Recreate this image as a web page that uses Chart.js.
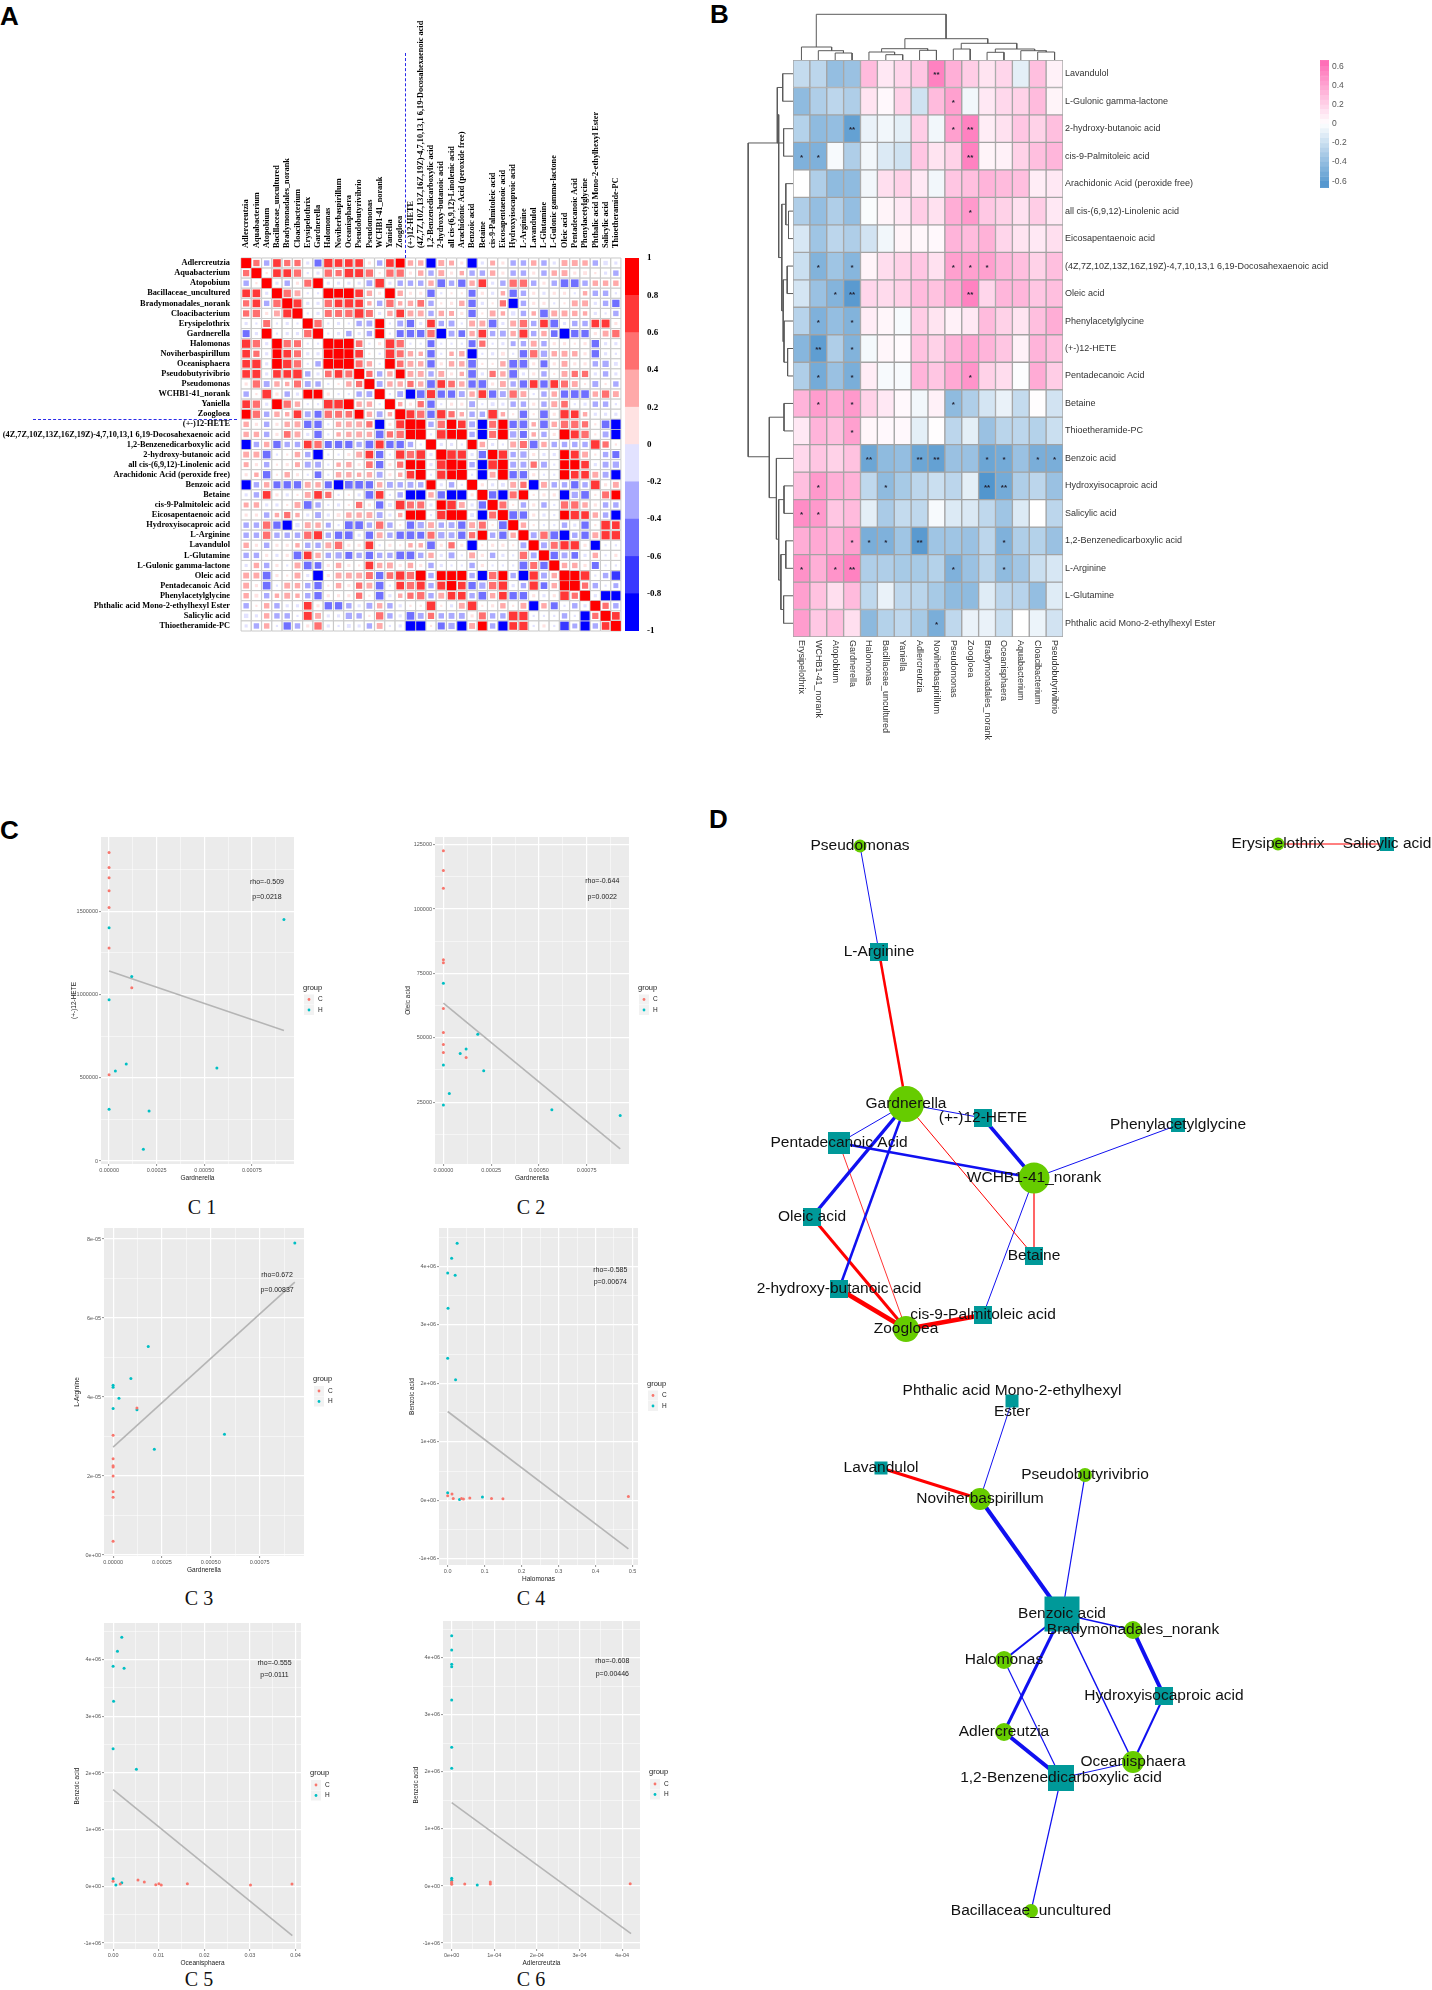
<!DOCTYPE html>
<html>
<head>
<meta charset="utf-8">
<script src="https://cdn.jsdelivr.net/npm/chart.js@4"></script>
<style>
  html, body { margin: 0; background: #fff; }
  #page { position: relative; width: 1432px; height: 1990px; overflow: hidden; }
  canvas { position: absolute; }
  .tag { position: absolute; font: bold 26px "Liberation Sans", sans-serif; color: #000; line-height: 26px; }
  .cap { position: absolute; font: 20px "Liberation Serif", serif; color: #111; width: 60px; text-align: center; line-height: 22px; }
  .dash { position: absolute; border: 0 dashed #2a2ae8; z-index: 2; }
</style>
</head>
<body>
<div id="page">
  <div class="tag" style="left:0;top:3px">A</div>
  <div class="tag" style="left:710px;top:1px">B</div>
  <div class="tag" style="left:0;top:817px">C</div>
  <div class="tag" style="left:709px;top:806px">D</div>
  <div class="cap" style="left:172px;top:1196px">C 1</div>
  <div class="cap" style="left:501px;top:1196px">C 2</div>
  <div class="cap" style="left:169px;top:1587px">C 3</div>
  <div class="cap" style="left:501px;top:1587px">C 4</div>
  <div class="cap" style="left:169px;top:1968px">C 5</div>
  <div class="cap" style="left:501px;top:1968px">C 6</div>
  <div class="dash" style="left:405px;top:53px;height:205px;border-left-width:1.5px"></div>
  <div class="dash" style="left:33px;top:419px;width:204px;border-top-width:1.5px"></div>
</div>
<script>
// ---- A: correlation matrix ----
const namesA = ["Adlercreutzia","Aquabacterium","Atopobium","Bacillaceae_uncultured","Bradymonadales_norank","Cloacibacterium","Erysipelothrix","Gardnerella","Halomonas","Noviherbaspirillum","Oceanisphaera","Pseudobutyrivibrio","Pseudomonas","WCHB1-41_norank","Yaniella","Zoogloea","(+-)12-HETE","(4Z,7Z,10Z,13Z,16Z,19Z)-4,7,10,13,1 6,19-Docosahexaenoic acid","1,2-Benzenedicarboxylic acid","2-hydroxy-butanoic acid","all cis-(6,9,12)-Linolenic acid","Arachidonic Acid (peroxide free)","Benzoic acid","Betaine","cis-9-Palmitoleic acid","Eicosapentaenoic acid","Hydroxyisocaproic acid","L-Arginine","Lavandulol","L-Glutamine","L-Gulonic gamma-lactone","Oleic acid","Pentadecanoic Acid","Phenylacetylglycine","Phthalic acid Mono-2-ethylhexyl Ester","Salicylic acid","Thioetheramide-PC"];
// upper triangle, row by row, starting right after the diagonal
const upperA = [
[.4,-.3,.6,.4,.4,-.1,-.5,.7,.6,.6,.6,.1,-.3,.6,.8,.3,.3,-.85,.35,.25,.1,-.85,-.1,.25,.1,-.3,-.3,.3,-.3,-.1,.35,.35,.3,-.3,-.2,-.1],
[.05,.6,.6,.55,-.05,-.1,.55,.4,.7,.65,.55,.05,.55,.55,.1,.3,-.3,.35,.1,.2,-.3,-.3,.3,.1,-.3,-.3,.1,-.3,.3,.35,.1,.15,.05,-.1,-.3],
[-.1,-.3,.1,.5,.95,-.1,-.1,-.1,-.1,-.35,.75,-.1,-.3,-.3,-.3,.3,-.6,-.3,-.55,.3,.6,-.1,-.3,.55,.55,-.3,.1,-.3,-.6,-.6,-.3,.3,.3,.3],
[.55,.35,-.05,-.05,.95,.8,.95,.6,.3,.1,.95,.3,.1,.1,-.55,-.05,.05,.05,-.5,.1,-.1,.2,-.55,-.3,.1,-.1,.1,.1,-.05,.2,-.3,-.3,-.05],
[.65,-.1,-.1,.55,.6,.7,.6,.2,-.3,.55,.2,.3,.45,-.3,.05,.1,.3,-.55,-.1,.05,.4,-.85,-.3,.1,.1,-.05,.05,.35,.35,-.1,-.3,-.55],
[-.05,-.1,.5,.5,.55,.75,.5,-.1,.3,.6,.35,.35,-.3,.3,.25,.1,-.55,.05,.35,.2,-.2,-.3,.2,-.6,.35,.35,.3,.2,-.1,-.05,-.3],
[.55,-.05,-.1,-.05,-.3,-.35,.8,-.05,-.35,-.55,-.1,.6,-.3,-.35,-.05,.35,.35,-.6,-.1,.35,.55,-.3,.6,-.6,-.1,-.3,-.3,.6,.65,.1],
[-.05,-.1,-.3,-.1,-.3,.8,-.05,-.5,-.55,-.55,.55,-.9,-.35,-.45,.3,.6,-.3,-.35,.3,.65,-.3,.3,-.45,-.95,-.55,-.55,.1,.35,.55],
[.8,.95,.45,-.05,.1,.75,.55,-.05,-.05,-.5,-.05,-.05,-.05,-.5,.4,-.05,-.1,-.25,-.3,.35,-.3,.1,.1,.05,.1,-.55,-.1,-.1],
[.85,.6,.05,-.05,.75,.5,.3,.2,-.55,-.05,.2,.3,-.85,-.05,-.1,.15,-.05,-.55,.55,-.4,.3,.35,.3,.1,-.55,-.1,-.05],
[.5,.3,-.05,.95,.45,.35,.3,-.55,.1,.3,.3,-.6,.05,.05,.3,-.6,-.6,.1,-.5,.1,.35,.1,.1,-.3,-.4,-.15],
[.4,-.3,.3,.8,.35,.35,-.3,.35,.1,.2,-.6,-.1,.4,.3,-.6,-.1,.1,-.3,.05,.35,.4,.4,-.1,-.3,-.1],
[-.35,.3,.3,.4,.3,-.6,.6,.45,.3,-.55,-.6,.1,.35,-.3,-.55,.6,-.55,.6,.5,.35,.05,-.35,.05,-.3],
[-.05,-.35,-.85,-.6,.65,-.55,-.55,-.35,.3,.6,-.55,-.35,.55,.35,-.05,-.3,.3,-.55,-.6,-.6,.3,.55,.35],
[.2,.1,.4,-.55,-.05,.1,.1,-.35,-.05,-.15,-.1,-.3,-.3,.1,-.3,.35,.45,-.05,-.1,-.3,-.3,-.05],
[.65,.55,-.55,.7,.4,.2,-.3,-.3,.75,.2,.05,-.55,.05,-.6,.1,.7,.6,.2,-.1,-.1,-.1],
[.85,-.3,.55,.85,.6,-.35,-.85,.5,.85,-.55,-.6,.2,-.6,.3,.55,.55,.4,.05,-.6,-.9],
[-.05,.75,.8,.95,-.3,-.85,.5,.95,-.4,-.5,.2,-.3,.1,.95,.65,.55,.05,-.35,-.85],
[-.1,-.1,-.05,.85,.3,-.1,-.05,.35,.5,-.6,.3,-.3,-.3,-.3,-.3,.75,.4,.05],
[.75,.7,-.1,-.55,.85,.7,-.3,-.4,.1,-.1,-.1,.8,.65,.35,.05,-.3,-.5],
[.8,-.3,-.85,.75,.95,-.35,-.35,.4,-.35,-.05,.8,.85,.6,-.1,-.35,-.4],
[-.05,-.85,.35,.95,-.55,-.55,.1,-.05,-.05,.85,.6,.6,.35,-.35,-.85],
[.1,-.1,-.15,.35,.4,-.9,.35,-.3,-.3,-.55,-.3,.75,.1,.35],
[-.55,-.85,.5,.85,.05,.1,.1,-.85,-.4,-.6,.05,.5,.8],
[.5,.05,-.3,.1,-.3,-.05,.55,.55,.3,.1,-.3,-.3],
[-.6,-.55,.1,-.1,-.05,.8,.7,.6,.3,-.3,-.85],
[.3,.05,-.05,-.05,-.3,-.1,-.55,.05,.75,.6],
[-.35,.55,-.6,-.9,-.3,-.55,.35,.7,.7],
[-.35,.5,.7,.7,.1,-.85,-.05,-.05],
[-.55,-.35,-.45,-.1,.3,-.05,.1],
[.3,.3,.1,-.5,-.05,-.05],
[.85,.75,-.05,-.3,-.75],
[.4,-.3,-.05,-.25],
[-.1,-.85,-.85],
[.4,-.3],
[.6]
];
const binsA = ["#0000FF","#3838FF","#7070FF","#A9A9FF","#E2E2FF","#FFE2E2","#FFA9A9","#FF7070","#FF3838","#FF0000"];
const ticksA = [-1,-.8,-.6,-.4,-.2,0,.2,.4,.6,.8,1];

// ---- B: heatmap ----
const rowsB = ["Lavandulol","L-Gulonic gamma-lactone","2-hydroxy-butanoic acid","cis-9-Palmitoleic acid","Arachidonic Acid (peroxide free)","all cis-(6,9,12)-Linolenic acid","Eicosapentaenoic acid","(4Z,7Z,10Z,13Z,16Z,19Z)-4,7,10,13,1 6,19-Docosahexaenoic acid","Oleic acid","Phenylacetylglycine","(+-)12-HETE","Pentadecanoic Acid","Betaine","Thioetheramide-PC","Benzoic acid","Hydroxyisocaproic acid","Salicylic acid","1,2-Benzenedicarboxylic acid","L-Arginine","L-Glutamine","Phthalic acid Mono-2-ethylhexyl Ester"];
const colsB = ["Erysipelothrix","WCHB1-41_norank","Atopobium","Gardnerella","Halomonas","Bacillaceae_uncultured","Yaniella","Adlercreutzia","Noviherbaspirillum","Pseudomonas","Zoogloea","Bradymonadales_norank","Oceanisphaera","Aquabacterium","Cloacibacterium","Pseudobutyrivibrio"];
const valsB = [
[-.22,-.25,-.4,-.38,.3,.1,.18,.25,.55,.35,.22,.12,.18,-.1,.28,.06],
[-.42,-.3,-.25,-.3,.12,.03,.2,-.18,.3,.42,-.05,.1,.17,.2,.3,.05],
[-.28,-.42,-.4,-.58,-.08,-.05,-.1,.22,-.05,.42,.55,.08,.13,.25,.2,.28],
[-.48,-.48,-.03,-.3,-.05,-.13,-.18,.25,.12,.2,.55,.05,.06,.2,.28,.32],
[0,-.3,-.42,-.42,-.05,.14,.2,.1,-.05,.25,.28,.33,.3,.28,.08,.1],
[-.3,-.4,-.3,-.4,-.02,.05,.1,.22,.13,.36,.45,.24,.2,.13,.22,.1],
[-.15,-.36,-.25,-.3,-.17,-.05,.05,.04,.03,.33,.3,.34,.18,.12,.1,.14],
[-.2,-.47,-.36,-.45,.05,.15,.2,.25,.13,.42,.42,.42,.32,.28,.2,.28],
[-.16,-.38,-.46,-.62,.18,.16,.2,.3,.27,.38,.55,.18,.32,.32,.25,.28],
[-.27,-.48,-.4,-.47,.08,.04,-.03,.22,.12,.06,.1,.3,.2,.12,.28,.36],
[-.45,-.6,-.3,-.47,-.04,.04,.02,.27,.2,.33,.4,.33,.25,.06,.33,.28],
[-.3,-.52,-.38,-.5,.08,-.03,-.03,.33,.25,.38,.47,.2,.15,-.01,.37,.22],
[.33,.43,.37,.45,.2,.1,.03,-.05,.06,-.42,-.3,-.16,-.08,-.22,.01,-.17],
[.1,.33,.28,.42,.04,.03,.03,-.1,.01,-.25,-.1,-.38,-.26,-.25,-.28,-.2],
[.17,.25,.2,.27,-.55,-.42,-.4,-.55,-.58,-.38,-.38,-.55,-.52,-.38,-.5,-.5],
[.28,.45,.35,.34,-.24,-.42,-.33,-.25,-.2,-.25,-.1,-.65,-.52,-.3,-.25,-.38],
[.5,.45,.25,.3,-.1,-.32,-.22,-.24,-.03,-.13,-.14,-.24,-.36,-.13,0,-.25],
[.36,.38,.33,.42,-.5,-.48,-.36,-.62,-.36,-.36,-.38,-.25,-.48,-.3,-.28,-.38],
[.48,.35,.47,.55,-.3,-.3,-.33,-.33,-.28,-.48,-.38,-.26,-.42,-.35,-.2,-.15],
[.42,.27,.14,.3,-.24,-.08,-.24,-.26,-.33,-.42,-.42,-.12,-.25,-.27,-.4,-.12],
[.43,.24,.28,.14,-.43,-.28,-.24,-.33,-.5,-.24,-.08,-.08,-.2,0,-.07,-.17]
];
// row, column, significance mark
const starsB = [[0,8,"**"],[1,9,"*"],[2,3,"**"],[2,9,"*"],[2,10,"**"],[3,0,"*"],[3,1,"*"],[3,10,"**"],[5,10,"*"],[7,1,"*"],[7,3,"*"],[7,9,"*"],[7,10,"*"],[7,11,"*"],[8,2,"*"],[8,3,"**"],[8,10,"**"],[9,1,"*"],[9,3,"*"],[10,1,"**"],[10,3,"*"],[11,1,"*"],[11,3,"*"],[11,10,"*"],[12,1,"*"],[12,3,"*"],[12,9,"*"],[13,3,"*"],[14,4,"**"],[14,7,"**"],[14,8,"**"],[14,11,"*"],[14,12,"*"],[14,14,"*"],[14,15,"*"],[15,1,"*"],[15,5,"*"],[15,11,"**"],[15,12,"**"],[16,0,"*"],[16,1,"*"],[17,3,"*"],[17,4,"*"],[17,5,"*"],[17,7,"**"],[17,12,"*"],[18,0,"*"],[18,2,"*"],[18,3,"**"],[18,9,"*"],[18,12,"*"],[20,8,"*"]];
// dendrograms: [first, second, height, height of first child, height of second child]
const dendroTop = [[1.38,9.07,45.7,13,21.3],[.5,2.29,13,0,9.3],[1.5,2.99,9.3,0,7],[2.5,3.5,7,0,0],[6.63,11.54,21.3,11.3,16.7],[5.25,7.98,11.3,8,9.7],[4.5,6.02,8,0,5.3],[5.5,6.5,5.3,0,0],[7.5,8.5,9.7,0,0],[9.97,13.26,16.7,11,11],[9.5,10.5,11,0,0],[11.99,14.32,11,7.7,9.3],[11.5,12.5,7.7,0,0],[13.5,15.01,9.3,0,8],[14.5,15.5,8,0,0]];
const dendroLeft = [[3.02,14.44,44.8,14.3,23.7],[1.99,7.19,14.3,15.7,11.2],[1,3.02,15.7,10.3,9.4],[.5,1.5,10.3,0,0],[2.5,3.5,9.4,0,0],[5.25,9.13,11.2,7.2,9.8],[4.5,6,7.2,0,4.5],[5.5,6.5,4.5,0,0],[8,10.25,9.8,5.8,9],[7.5,8.5,5.8,0,0],[9.5,11,9,0,5.4],[10.5,11.5,5.4,0,0],[13,15.93,23.7,9,16.6],[12.5,13.5,9,0,0],[14.5,17.44,16.6,0,14.3],[16,18.93,14.3,9,12.1],[15.5,16.5,9,0,0],[18,20,12.1,7.2,9.4],[17.5,18.5,7.2,0,0],[19.5,20.5,9.4,0,0]];
const ticksB = [-.6,-.4,-.2,0,.2,.4,.6];

// ---- C: scatter panels ----
const c1CX = [0,0,0,0,0,0,0,.000119];
const c1CY = [1852000,1762000,1700000,1622000,1522000,1278000,518000,1040000];
const c1HX = [0,0,0,.000119,.000033,.00009,.00018,.00021,.000566,.000918];
const c1HY = [1400000,968000,310000,1108000,540000,582000,70000,300000,558000,1450000];
const c2CX = [0,0,0,0,0,0,0,0,0,.000119];
const c2CY = [122655,114985,108095,80275,79105,61425,52065,47385,44265,42315];
const c2HX = [0,0,0,.00018,.000119,.000088,.000211,.000031,.000568,.000926];
const c2HY = [71175,39455,23855,51415,45695,43875,37245,28405,22035,19825];
const c3CX = [0,0,0,0,0,0,0,0,.000122];
const c3CY = [3.03e-5,2.44e-5,2.26e-5,2.23e-5,2e-5,1.6e-5,1.46e-5,3.5e-6,3.72e-5];
const c3HX = [0,0,0,.00003,.000091,.00018,.000122,.000211,.00057,.00093];
const c3HY = [4.3e-5,4.25e-5,3.71e-5,3.97e-5,4.47e-5,5.28e-5,3.68e-5,2.68e-5,3.06e-5,7.9e-5];
const c4CX = [0,.0117,.015,.0374,.0427,.0598,.1186,.1495,.489];
const c4CY = [8e4,1.08e5,3.4e4,3.4e4,2.3e4,4e4,3.4e4,2.8e4,6.8e4];
const c4HX = [.0256,.0107,0,.0203,.001,0,.0214,0,.032,.094];
const c4HY = [4.397e6,4.14e6,3.89e6,3.85e6,3.286e6,2.432e6,2.062e6,1.31e5,1.7e4,5.7e4];
const c5CX = [0,.00156,.00545,.00684,.00935,.01004,.01056,.01628,.03013,.03922];
const c5CY = [8.8e4,4.1e4,1.12e5,7.6e4,2.9e4,4.7e4,2.4e4,4.7e4,2.4e4,4.1e4];
const c5HX = [.0019,.00095,0,.0024,.0001,0,.0051,0,.0006,.0019];
const c5HY = [4.394e6,4.147e6,3.882e6,3.847e6,3.265e6,2.429e6,2.065e6,1.35e5,2.4e4,6.5e4];
const c6CX = [0,0,0,3.06e-5,9.07e-5,9.07e-5,4.19e-4];
const c6CY = [7e4,2.9e4,5.3e4,3.5e4,7e4,3.5e4,4.1e4];
const c6HX = [0,0,0,0,0,0,0,0,0,6e-5];
const c6HY = [4.387e6,4.135e6,3.884e6,3.843e6,3.259e6,2.43e6,2.062e6,1.34e5,1e5,1.8e4];

// ---- D: network, layout coordinates ----
const nodeNames = ["Pseudomonas","L-Arginine","Gardnerella","(+-)12-HETE","Phenylacetylglycine","WCHB1-41_norank","Pentadecanoic Acid","Oleic acid","Betaine","2-hydroxy-butanoic acid","cis-9-Palmitoleic acid","Zoogloea","Erysipelothrix","Salicylic acid","Phthalic acid Mono-2-ethylhexyl\nEster","Lavandulol","Noviherbaspirillum","Pseudobutyrivibrio","Benzoic acid","Bradymonadales_norank","Halomonas","Hydroxyisocaproic acid","Adlercreutzia","Oceanisphaera","1,2-Benzenedicarboxylic acid","Bacillaceae_uncultured"];
const nodeX = [860,879,906,983,1178,1034,839,812,1034,839,983,906,1278,1387,1012,881,980,1085,1062,1133,1004,1164,1004,1133,1061,1031];
const nodeY = [846,952,1104,1118,1125,1178,1143,1217,1256,1289,1315,1329,844,844,1401,1468,1499,1475,1614,1630,1660,1696,1732,1762,1778,1911];
const nodeSize = [13,18,36,18,14,31,22,18,18,18,18,26,13,14,13,13,22,14,35,18,18,18,18,22,26,14];
const nodeIsTaxon = [1,0,1,0,0,1,0,0,0,0,0,1,1,0,0,0,1,1,0,1,1,0,1,1,0,1];
// from, to, width, sign of the correlation
const edges = [[0,1,1,-1],[1,2,2.5,1],[2,3,1,-1],[2,6,1,-1],[2,7,3.5,-1],[2,9,2.5,-1],[2,8,1,1],[3,5,3.5,-1],[6,5,2.5,-1],[5,4,1,-1],[5,8,1.2,1],[5,10,1,-1],[6,11,.8,1],[7,11,3,1],[9,11,4.5,1],[10,11,4.5,1],[12,13,1,1],[14,16,1,-1],[15,16,3,1],[16,18,4,-1],[17,18,1.2,-1],[18,19,1.5,-1],[18,20,2,-1],[18,22,3,-1],[18,23,1.5,-1],[19,21,4,-1],[21,23,2,-1],[20,24,1.2,-1],[22,24,4,-1],[23,24,1,-1],[24,25,1.2,-1]];

Chart.defaults.animation = false;
Chart.defaults.responsive = false;
Chart.defaults.layout.autoPadding = false;
Chart.defaults.plugins.legend.display = false;
Chart.defaults.plugins.tooltip.enabled = false;
Chart.defaults.font.family = '"Liberation Sans", sans-serif';

function mk(x, y, w, h, cfg) {
    const c = document.createElement('canvas');
    c.width = w; c.height = h;
    c.style.left = x + 'px'; c.style.top = y + 'px';
    document.getElementById('page').appendChild(c);
    return new Chart(c.getContext('2d'), cfg);
}

// fixed axis size, so the plot box lands where it should
function fixAxis(s, size) {
    if (s.isHorizontal()) s.height = size; else s.width = size;
    s.paddingTop = 0; s.paddingBottom = 0; s.paddingLeft = 0; s.paddingRight = 0;
}

// ---- panel A ----
function colorA(v) { return binsA[Math.min(9, Math.floor((v + 1) * 5))]; }

const cellsA = [], sizesA = [], colorsA = [], gridA = [];
const cellSide = 10.1;
namesA.forEach((rowName, i) => {
    namesA.forEach((colName, j) => {
        let v = 1;
        if (i < j) v = upperA[i][j - i - 1];
        if (i > j) v = upperA[j][i - j - 1];
        gridA.push({ x: colName, y: rowName });
        cellsA.push({ x: colName, y: rowName });
        sizesA.push(Math.sqrt(Math.abs(v)) * cellSide * 0.98 / Math.SQRT2);
        colorsA.push(colorA(v));
    });
});

mk(0, 0, 625, 635, {
    type: 'scatter',
    data: { datasets: [
        { data: cellsA, pointStyle: 'rect', pointRadius: sizesA, pointBackgroundColor: colorsA, pointBorderWidth: 0, order: 1, clip: false },
        { data: gridA, pointStyle: 'rect', pointRadius: cellSide / Math.SQRT2, pointBackgroundColor: '#fff', pointBorderColor: '#c9c9c9', pointBorderWidth: 1, order: 2, clip: false }
    ]},
    options: {
        layout: { padding: { right: 4, bottom: 4 } },
        scales: {
            x: { type: 'category', labels: namesA, position: 'top', offset: true, grid: { display: false }, border: { display: false },
                 afterFit: s => fixAxis(s, 258),
                 ticks: { autoSkip: false, minRotation: 90, maxRotation: 90, padding: 2, labelOffset: 10, color: '#000', font: { family: '"Liberation Serif", serif', weight: 'bold', size: 8.3 } } },
            y: { type: 'category', labels: namesA, offset: true, grid: { display: false }, border: { display: false },
                 afterFit: s => fixAxis(s, 241),
                 ticks: { autoSkip: false, padding: 3, color: '#000', font: { family: '"Liberation Serif", serif', weight: 'bold', size: 8.3 } } }
        }
    }
});

// colour key of A
mk(622, 254, 60, 381, {
    type: 'bar',
    data: { labels: [''], datasets: binsA.map((col, k) => ({ data: [[ticksA[k], ticksA[k + 1]]], backgroundColor: col, barPercentage: 1, categoryPercentage: 1, grouped: false })) },
    options: {
        layout: { padding: { left: 3, top: 4, bottom: 4 } },
        scales: {
            x: { display: false },
            y: { position: 'right', min: -1, max: 1, grid: { display: false, drawTicks: false }, border: { display: false },
                 afterBuildTicks: s => { s.ticks = ticksA.map(v => ({ value: v })); },
                 afterFit: s => fixAxis(s, 43),
                 ticks: { padding: 8, color: '#000', callback: v => String(Math.round(v * 10) / 10), font: { family: '"Liberation Serif", serif', weight: 'bold', size: 9 } } }
        }
    }
});

// ---- panel B ----
function colorB(v) {
    const t = Math.min(1, Math.abs(v) / 0.66);
    const end = v >= 0 ? [255, 105, 180] : [79, 148, 205];
    return 'rgb(' + end.map(c => Math.round(255 + (c - 255) * t)).join(',') + ')';
}

const labelsB = {
    id: 'labelsB',
    afterDraw(chart) {
        const { ctx, chartArea, scales } = chart;
        ctx.save();
        ctx.fillStyle = '#333';
        ctx.font = '9px "Liberation Sans"';
        ctx.textBaseline = 'middle';
        ctx.textAlign = 'left';
        colsB.forEach((name, i) => {
            ctx.save();
            ctx.translate(scales.x.getPixelForValue(i), chartArea.bottom + 3);
            ctx.rotate(Math.PI / 2);
            ctx.fillText(name, 0, 0);
            ctx.restore();
        });
        ctx.fillStyle = '#223';
        ctx.font = 'bold 8px "Liberation Sans"';
        ctx.textAlign = 'center';
        starsB.forEach(s => ctx.fillText(s[2], scales.x.getPixelForValue(s[1]), scales.y.getPixelForValue(s[0] + 0.5) + 1.5));
        ctx.restore();
    }
};

mk(793, 60, 639, 700, {
    type: 'bar',
    data: {
        labels: colsB,
        datasets: rowsB.map((name, r) => ({
            label: name,
            data: colsB.map(() => [r, r + 1]),
            backgroundColor: valsB[r].map(colorB),
            borderColor: '#a3a3a3', borderWidth: 1, borderSkipped: false,
            barPercentage: 1, categoryPercentage: 1, grouped: false
        }))
    },
    options: {
        layout: { padding: { bottom: 123 } },
        scales: {
            x: { display: false },
            y: { position: 'right', min: 0, max: 21, reverse: true, grid: { display: false, drawTicks: false }, border: { display: false },
                 afterBuildTicks: s => { s.ticks = rowsB.map((_, i) => ({ value: i + 0.5 })); },
                 afterFit: s => fixAxis(s, 369),
                 ticks: { autoSkip: false, padding: 2, color: '#333', callback: v => rowsB[v - 0.5], font: { size: 9 } } }
        }
    },
    plugins: [labelsB]
});

function dendroSets(list, flip) {
    return list.map(m => {
        const pts = [[m[0], m[3]], [m[0], m[2]], [m[1], m[2]], [m[1], m[4]]];
        return {
            data: pts.map(p => flip ? { x: p[1], y: p[0] } : { x: p[0], y: p[1] }),
            showLine: true, pointRadius: 0, borderColor: '#5a5a5a', borderWidth: 1, tension: 0, clip: false
        };
    });
}

mk(793, 10, 270, 50, {
    type: 'scatter',
    data: { datasets: dendroSets(dendroTop, false) },
    options: { scales: { x: { display: false, min: 0, max: 16 }, y: { display: false, min: 0, max: 50 } } }
});
mk(743, 60, 50, 577, {
    type: 'scatter',
    data: { datasets: dendroSets(dendroLeft, true) },
    options: { scales: { x: { display: false, min: 0, max: 50, reverse: true }, y: { display: false, min: 0, max: 21, reverse: true } } }
});

// colour key of B
const stepsB = [-.67,-.6,-.55,-.5,-.45,-.4,-.35,-.3,-.25,-.2,-.15,-.1,-.05,0,.05,.1,.15,.2,.25,.3,.35,.4,.45,.5,.55,.6,.667];
mk(1320, 56, 60, 136, {
    type: 'bar',
    data: { labels: [''], datasets: stepsB.slice(1).map((v, k) => {
        const col = colorB((v + stepsB[k]) / 2);
        return { data: [[stepsB[k], v]], backgroundColor: col, borderColor: col, borderWidth: 0.5, borderSkipped: false, barPercentage: 1, categoryPercentage: 1, grouped: false };
    }) },
    options: {
        layout: { padding: { top: 4, bottom: 4 } },
        scales: {
            x: { display: false },
            y: { position: 'right', min: -.67, max: .667, grid: { display: false, drawTicks: false }, border: { display: false },
                 afterBuildTicks: s => { s.ticks = ticksB.map(v => ({ value: v })); },
                 afterFit: s => fixAxis(s, 51),
                 ticks: { padding: 3, color: '#555', callback: v => String(Math.round(v * 10) / 10), font: { size: 8.5 } } }
        }
    }
});

// ---- panel C ----
const groupColors = { C: '#F8766D', H: '#00BFC4' };

function makeTicks(majors, labels, min, max) {
    const step = majors[1] - majors[0];
    const out = majors.map((v, i) => ({ value: v, txt: labels[i] }));
    majors.forEach(v => {
        out.push({ value: v + step / 2 });
    });
    out.push({ value: majors[0] - step / 2 });
    return out.filter(t => t.value >= min && t.value <= max).sort((a, b) => a.value - b.value);
}

function axisOpts(p, axis) {
    const a = p[axis];
    return {
        min: a.min, max: a.max,
        title: { display: true, text: a.title, color: '#222', font: { size: 6.5 }, padding: { top: 0, bottom: 1 } },
        border: { display: false },
        afterBuildTicks: s => { s.ticks = makeTicks(a.majors, a.labels, a.min, a.max); },
        afterFit: s => fixAxis(s, axis === 'x' ? 19 : 31),
        grid: {
            color: '#fff', tickColor: '#444', tickLength: 2,
            lineWidth: c => (c.tick && c.tick.txt ? 1.2 : 0.5),
            tickWidth: c => (c.tick && c.tick.txt ? 0.6 : 0)
        },
        ticks: { autoSkip: false, maxRotation: 0, padding: 1, color: '#555', font: { size: 5.5 }, callback: (v, i, t) => t[i].txt || '' }
    };
}

function toPts(xs, ys) { return xs.map((x, i) => ({ x: x, y: ys[i] })); }

function panel(p) {
    const deco = {
        id: 'deco',
        beforeDraw(chart) {
            const a = chart.chartArea;
            chart.ctx.save();
            chart.ctx.fillStyle = '#EBEBEB';
            chart.ctx.fillRect(a.left, a.top, a.right - a.left, a.bottom - a.top);
            chart.ctx.restore();
        },
        afterDraw(chart) {
            const { ctx, chartArea: a, scales } = chart;
            ctx.save();
            ctx.fillStyle = '#222';
            ctx.font = '7px "Liberation Sans"';
            ctx.textAlign = 'center';
            ctx.textBaseline = 'middle';
            p.notes.forEach(n => ctx.fillText(n[0], scales.x.getPixelForValue(n[1]), scales.y.getPixelForValue(n[2])));
            // legend to the right of the plot
            const cy = (a.top + a.bottom) / 2, kx = a.right + 15;
            ctx.textAlign = 'left';
            ctx.font = '7.5px "Liberation Sans"';
            ctx.fillText('group', kx - 6, cy - 13);
            ctx.font = '6.5px "Liberation Sans"';
            ['C', 'H'].forEach((g, i) => {
                const ky = cy + i * 10.5 - 1;
                ctx.fillStyle = '#F2F2F2';
                ctx.fillRect(kx - 5, ky - 5, 10, 10);
                ctx.fillStyle = groupColors[g];
                ctx.beginPath(); ctx.arc(kx, ky, 1.4, 0, Math.PI * 2); ctx.fill();
                ctx.fillStyle = '#222';
                ctx.fillText(g, kx + 9, ky);
            });
            ctx.restore();
        }
    };
    const dot = { pointRadius: 1.5, pointBorderWidth: 0, showLine: false };
    mk(p.box[0] - 31, p.box[1] - 3, p.box[2] - p.box[0] + 31 + 50, p.box[3] - p.box[1] + 3 + 19, {
        type: 'scatter',
        data: { datasets: [
            Object.assign({ label: 'C', data: toPts(p.cx, p.cy), pointBackgroundColor: groupColors.C, order: 1 }, dot),
            Object.assign({ label: 'H', data: toPts(p.hx, p.hy), pointBackgroundColor: groupColors.H, order: 1 }, dot),
            { label: 'fit', data: p.fit, showLine: true, pointRadius: 0, borderColor: '#b5b5b5', borderWidth: 1.6, tension: 0, order: 2 }
        ]},
        options: {
            layout: { padding: { top: 3, right: 50 } },
            scales: { x: axisOpts(p, 'x'), y: axisOpts(p, 'y') }
        },
        plugins: [deco]
    });
}

panel({ box: [101, 837, 294, 1164], cx: c1CX, cy: c1CY, hx: c1HX, hy: c1HY,
    fit: [{ x: 0, y: 1140000 }, { x: .000918, y: 784000 }],
    notes: [['rho=-0.509', .000829, 1676000], ['p=0.0218', .000829, 1584000]],
    x: { min: -.0000425, max: .000971, title: 'Gardnerella', majors: [0, .00025, .0005, .00075], labels: ['0.00000', '0.00025', '0.00050', '0.00075'] },
    y: { min: -18000, max: 1945000, title: '(+-)12-HETE', majors: [0, 500000, 1000000, 1500000], labels: ['0', '500000', '1000000', '1500000'] } });
panel({ box: [435, 837, 629, 1164], cx: c2CX, cy: c2CY, hx: c2HX, hy: c2HY,
    fit: [{ x: 0, y: 63505 }, { x: .000926, y: 6825 }],
    notes: [['rho=-0.644', .000832, 110825], ['p=0.0022', .000832, 104715]],
    x: { min: -.000044, max: .000972, title: 'Gardnerella', majors: [0, .00025, .0005, .00075], labels: ['0.00000', '0.00025', '0.00050', '0.00075'] },
    y: { min: 975, max: 128000, title: 'Oleic acid', majors: [25000, 50000, 75000, 100000, 125000], labels: ['25000', '50000', '75000', '100000', '125000'] } });
panel({ box: [104, 1228, 304, 1556], cx: c3CX, cy: c3CY, hx: c3HX, hy: c3HY,
    fit: [{ x: 0, y: 2.73e-5 }, { x: .00093, y: 6.91e-5 }],
    notes: [['rho=0.672', .000839, 7.1e-5], ['p=0.00837', .000839, 6.72e-5]],
    x: { min: -.0000466, max: .000977, title: 'Gardnerella', majors: [0, .00025, .0005, .00075], labels: ['0.00000', '0.00025', '0.00050', '0.00075'] },
    y: { min: -2.5e-7, max: 8.28e-5, title: 'L-Arginine', majors: [0, 2e-5, 4e-5, 6e-5, 8e-5], labels: ['0e+00', '2e-05', '4e-05', '6e-05', '8e-05'] } });
panel({ box: [439, 1228, 638, 1565], cx: c4CX, cy: c4CY, hx: c4HX, hy: c4HY,
    fit: [{ x: 0, y: 1.52e6 }, { x: .489, y: -8.31e5 }],
    notes: [['rho=-0.585', .44, 3.947e6], ['p=0.00674', .44, 3.725e6]],
    x: { min: -.0235, max: .515, title: 'Halomonas', majors: [0, .1, .2, .3, .4, .5], labels: ['0.0', '0.1', '0.2', '0.3', '0.4', '0.5'] },
    y: { min: -1.105e6, max: 4.658e6, title: 'Benzoic acid', majors: [-1e6, 0, 1e6, 2e6, 3e6, 4e6], labels: ['-1e+06', '0e+00', '1e+06', '2e+06', '3e+06', '4e+06'] } });
panel({ box: [104, 1623, 301, 1949], cx: c5CX, cy: c5CY, hx: c5HX, hy: c5HY,
    fit: [{ x: 0, y: 1.706e6 }, { x: .0393, y: -8.71e5 }],
    notes: [['rho=-0.555', .0354, 3.94e6], ['p=0.0111', .0354, 3.723e6]],
    x: { min: -.002, max: .0412, title: 'Oceanisphaera', majors: [0, .01, .02, .03, .04], labels: ['0.00', '0.01', '0.02', '0.03', '0.04'] },
    y: { min: -1.106e6, max: 4.647e6, title: 'Benzoic acid', majors: [-1e6, 0, 1e6, 2e6, 3e6, 4e6], labels: ['-1e+06', '0e+00', '1e+06', '2e+06', '3e+06', '4e+06'] } });
panel({ box: [443, 1621, 640, 1949], cx: c6CX, cy: c6CY, hx: c6HX, hy: c6HY,
    fit: [{ x: 0, y: 1.46e6 }, { x: 4.21e-4, y: -8.35e5 }],
    notes: [['rho=-0.608', 3.77e-4, 3.943e6], ['p=0.00446', 3.77e-4, 3.715e6]],
    x: { min: -.0000204, max: 4.42e-4, title: 'Adlercreutzia', majors: [0, 1e-4, 2e-4, 3e-4, 4e-4], labels: ['0e+00', '1e-04', '2e-04', '3e-04', '4e-04'] },
    y: { min: -1.104e6, max: 4.644e6, title: 'Benzoic acid', majors: [-1e6, 0, 1e6, 2e6, 3e6, 4e6], labels: ['-1e+06', '0e+00', '1e+06', '2e+06', '3e+06', '4e+06'] } });

// ---- panel D ----
const nodeLabels = {
    id: 'nodeLabels',
    afterDatasetsDraw(chart) {
        const { ctx, scales } = chart;
        ctx.save();
        ctx.fillStyle = '#111';
        ctx.font = '15.5px "Liberation Sans"';
        ctx.textAlign = 'center';
        ctx.textBaseline = 'middle';
        nodeNames.forEach((name, i) => {
            const lines = name.split('\n');
            lines.forEach((line, k) => {
                const dy = (k - (lines.length - 1) / 2) * 21;
                ctx.fillText(line, scales.x.getPixelForValue(nodeX[i]), scales.y.getPixelForValue(nodeY[i]) + dy);
            });
        });
        ctx.restore();
    }
};

const edgeSets = edges.map(e => ({
    data: [{ x: nodeX[e[0]], y: nodeY[e[0]] }, { x: nodeX[e[1]], y: nodeY[e[1]] }],
    showLine: true, pointRadius: 0, tension: 0, order: 2,
    borderColor: e[3] > 0 ? '#FF0000' : '#1010F0', borderWidth: e[2]
}));

mk(700, 800, 732, 1190, {
    type: 'scatter',
    data: { datasets: edgeSets.concat([{
        data: nodeX.map((x, i) => ({ x: x, y: nodeY[i] })),
        order: 1, showLine: false, pointBorderWidth: 0,
        pointStyle: nodeIsTaxon.map(t => (t ? 'circle' : 'rect')),
        pointRadius: nodeSize.map((s, i) => (nodeIsTaxon[i] ? s / 2 : s / Math.SQRT2)),
        pointBackgroundColor: nodeIsTaxon.map(t => (t ? '#66CC00' : '#009999'))
    }]) },
    options: { scales: {
        x: { display: false, min: 700, max: 1432 },
        y: { display: false, min: 800, max: 1990, reverse: true }
    } },
    plugins: [nodeLabels]
});
</script>
</body>
</html>
